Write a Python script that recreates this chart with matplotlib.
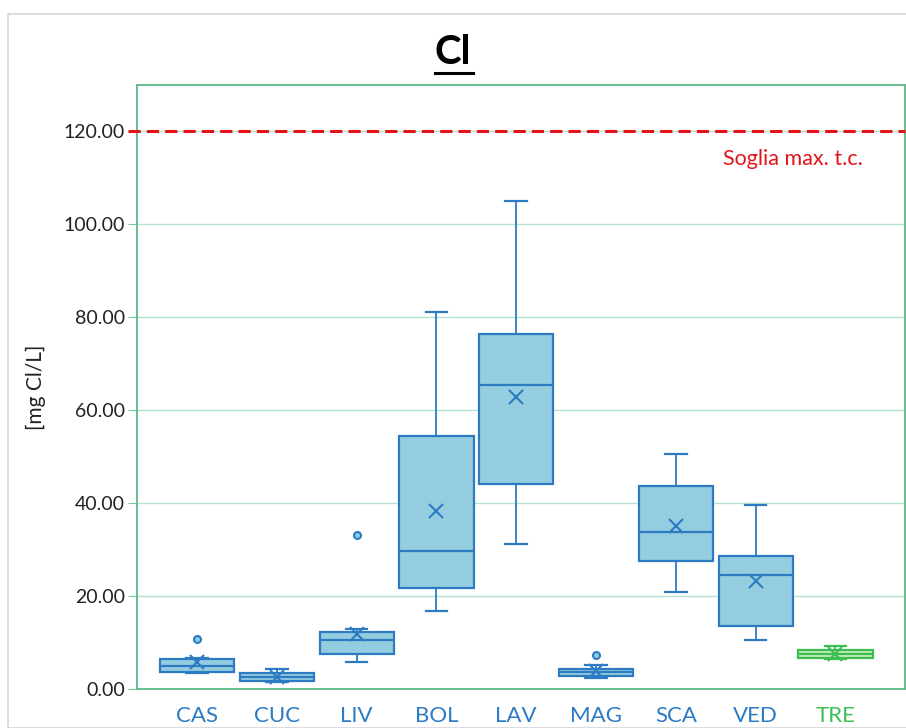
import matplotlib
matplotlib.use('Agg')
import matplotlib.pyplot as plt
from matplotlib.patches import Rectangle
from matplotlib.lines import Line2D

# dati
stazioni = ['CAS', 'CUC', 'LIV', 'BOL', 'LAV', 'MAG', 'SCA', 'VED', 'TRE']
whislo = [3.5, 1.4, 5.8, 16.8, 31.2, 2.4, 20.8, 10.6, 6.4]
q1 = [3.6, 1.7, 7.5, 21.7, 44.2, 2.8, 27.6, 13.6, 6.6]
med = [5.0, 2.6, 10.5, 29.8, 65.4, 3.6, 33.7, 24.6, 7.5]
q3 = [6.4, 3.4, 12.2, 54.5, 76.4, 4.2, 43.6, 28.7, 8.4]
whishi = [6.7, 4.2, 13.0, 81.2, 105.0, 5.2, 50.6, 39.7, 9.3]
medie = [5.9, 2.6, 11.8, 38.4, 62.9, 3.9, 35.0, 23.3, 7.6]
outliers = [[10.8], [], [33.2], [], [], [7.3], [], [], []]
soglia = 120.0

blu = '#2C7BC3'
azzurro = '#94CDDF'
verde = '#3DBE55'
verde_chiaro = '#C8EDB8'

plt.rcParams['font.family'] = ['Lato', 'DejaVu Sans']

fig = plt.figure(figsize=(9.06, 7.28), dpi=100)
ax = fig.add_axes([137/906, 1-689/728, 768/906, 604/728])

# cornice grigia esterna
fig.patches.append(Rectangle((8/906, 0), 1, 1-14/728, transform=fig.transFigure,
                             fill=False, edgecolor='#D6D6D6', linewidth=1.2))

stats = []
for i in range(len(stazioni)):
    stats.append(dict(whislo=whislo[i], q1=q1[i], med=med[i], q3=q3[i],
                      whishi=whishi[i], mean=medie[i], fliers=outliers[i]))

for i, s in enumerate(stats):
    c = verde if stazioni[i] == 'TRE' else blu
    f = verde_chiaro if stazioni[i] == 'TRE' else azzurro
    ax.bxp([s], positions=[i], widths=0.93, capwidths=0.27, patch_artist=True,
           showmeans=True,
           boxprops=dict(facecolor=f, edgecolor=c, linewidth=1.6),
           medianprops=dict(color=c, linewidth=1.6),
           whiskerprops=dict(color=c, linewidth=1.3),
           capprops=dict(color=c, linewidth=1.6),
           meanprops=dict(marker='x', markeredgecolor=c, markersize=10, markeredgewidth=1.5),
           flierprops=dict(marker='o', markerfacecolor=f, markeredgecolor=c,
                           markersize=5, markeredgewidth=1.5))

ax.set_xlim(-0.752, 8.872)
ax.set_ylim(0, 130)
ax.set_yticks([0, 20, 40, 60, 80, 100, 120])
ax.set_yticklabels(['%.2f' % v for v in [0, 20, 40, 60, 80, 100, 120]])
ax.yaxis.grid(True, color='#B5E2CC', linewidth=1.0)
ax.set_axisbelow(True)
ax.tick_params(axis='y', length=6.5, color='#7CC9A0', labelsize=14, pad=2, labelcolor='#222222')
ax.set_xticks(range(len(stazioni)))
ax.set_xticklabels(stazioni)
ax.tick_params(axis='x', length=0, labelsize=16, pad=12)
for lab in ax.get_xticklabels():
    lab.set_color(verde if lab.get_text() == 'TRE' else blu)
for sp in ax.spines.values():
    sp.set_color('#5DB887')
    sp.set_linewidth(1.3)

# soglia massima
ax.axhline(soglia, xmin=-9/768, xmax=1, color='#E2141A', linestyle=(0, (4, 2)),
           linewidth=2.2, clip_on=False, zorder=5)
ax.text(8.35, soglia - 6, 'Soglia max. t.c.', color='#E2141A', fontsize=15.5,
        ha='right', va='center')

ax.set_ylabel('[mg Cl/L]', fontsize=15, labelpad=13, color='#222222')

# titolo sottolineato
t = fig.text(0.5, 1-53/728, 'Cl', fontsize=29, fontweight='bold', ha='center', va='center')
fig.canvas.draw()
bb = t.get_window_extent().transformed(fig.transFigure.inverted())
fig.lines.append(Line2D([bb.x0, bb.x1 + 2/906], [1-73/728, 1-73/728], transform=fig.transFigure,
                        color='black', linewidth=2.2))

fig.savefig('out.png', dpi=100)
